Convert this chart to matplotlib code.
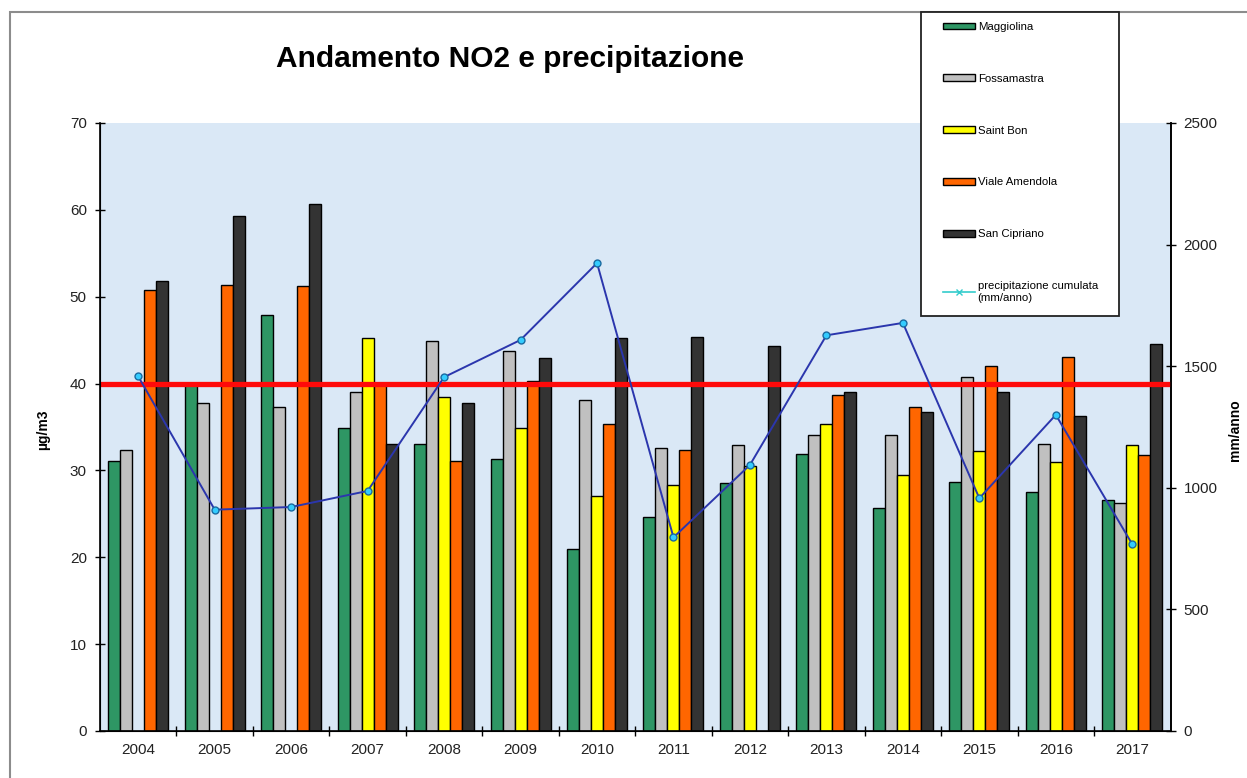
import numpy as np
import matplotlib
matplotlib.use("Agg")
import matplotlib.pyplot as plt
from matplotlib.patches import Patch, Rectangle
from matplotlib.lines import Line2D

plt.rcParams['font.family'] = ['Liberation Sans', 'DejaVu Sans']

years = ['2004', '2005', '2006', '2007', '2008', '2009', '2010',
         '2011', '2012', '2013', '2014', '2015', '2016', '2017']
nan = np.nan
maggiolina = [31.1, 40.0, 47.9, 34.9, 33.1, 31.3, 20.9, 24.6, 28.5, 31.9, 25.7, 28.7, 27.5, 26.6]
fossamastra = [32.4, 37.8, 37.3, 39.0, 44.9, 43.8, 38.1, 32.6, 32.9, 34.1, 34.1, 40.8, 33.1, 26.3]
saint_bon = [nan, nan, nan, 45.3, 38.4, 34.9, 27.1, 28.3, 30.5, 35.4, 29.5, 32.2, 31.0, 32.9]
viale_amendola = [50.8, 51.4, 51.2, 40.0, 31.1, 40.3, 35.4, 32.4, nan, 38.7, 37.3, 42.0, 43.1, 31.8]
san_cipriano = [51.8, 59.3, 60.7, 33.1, 37.8, 43.0, 45.3, 45.4, 44.3, 39.0, 36.7, 39.0, 36.3, 44.5]
precipitazione = [1458, 910, 921, 987, 1455, 1608, 1924, 796, 1094, 1627, 1678, 957, 1300, 768]
limite = 40

series_names = ['Maggiolina', 'Fossamastra', 'Saint Bon', 'Viale Amendola', 'San Cipriano']
series_vals = [maggiolina, fossamastra, saint_bon, viale_amendola, san_cipriano]
series_cols = ['#2e9664', '#c0c0c0', '#ffff00', '#ff6600', '#333333']

W, H = 1247, 778
fig = plt.figure(figsize=(W / 100, H / 100), dpi=100)
fig.patch.set_facecolor('white')

# figure border (top and left visible)
fig.add_artist(Rectangle((10 / W, -0.1), 1.2, 1 - 12 / H + 0.1, transform=fig.transFigure,
                         fill=False, edgecolor='#8c8c8c', lw=1.5, zorder=0))

left, right = 100 / W, 1170.5 / W
bottom, top = 1 - 731 / H, 1 - 123 / H
ax = fig.add_axes([left, bottom, right - left, top - bottom])
ax.set_facecolor('#dae8f6')

x = np.arange(len(years))
w = 0.157
for i, (name, vals, col) in enumerate(zip(series_names, series_vals, series_cols)):
    ax.bar(x + (i - 2) * w, np.array(vals, dtype=float), width=w, color=col,
           edgecolor='black', linewidth=1.0, label=name, zorder=2)

ax.axhline(limite, color='#ff0a0a', lw=3.8, zorder=3)

ax.set_xlim(-0.5, len(years) - 0.5)
ax.set_ylim(0, 70)
ax.set_yticks(np.arange(0, 71, 10))
ax.set_xticks(x)
ax.set_xticklabels(years)
ax.set_xticks(np.arange(0.5, len(years) - 1, 1.0), minor=True)
ax.tick_params(axis='x', which='major', length=0, pad=9, labelsize=11, labelcolor='#222222')
ax.tick_params(axis='x', which='minor', direction='inout', length=7, width=1)
ax.tick_params(axis='y', direction='inout', length=7, width=1, pad=6, labelsize=11, labelcolor='#222222')
ax.spines['top'].set_visible(False)
for s in ['left', 'bottom', 'right']:
    ax.spines[s].set_linewidth(1.2)

ax2 = ax.twinx()
ax2.set_ylim(0, 2500)
ax2.set_yticks(np.arange(0, 2501, 500))
ax2.tick_params(axis='y', direction='inout', length=7, width=1, pad=6, labelsize=11, labelcolor='#222222')
ax2.spines['top'].set_visible(False)
ax2.spines['right'].set_linewidth(1.2)
ax2.plot(x, precipitazione, color='#2b36ad', lw=1.4, marker='o', ms=5,
         mfc='#33ccff', mec='#1a6aa0', mew=1, zorder=5)

fig.text(510 / W, 1 - 59 / H, 'Andamento NO2 e precipitazione', ha='center', va='center',
         fontsize=21.5, fontweight='bold')
fig.text(43 / W, 1 - 430 / H, 'µg/m3', rotation=90, ha='center', va='center',
         fontsize=10, fontweight='bold')
fig.text(1235 / W, 1 - 430 / H, 'mm/anno', rotation=90, ha='center', va='center',
         fontsize=10, fontweight='bold')

# legend box
fig.add_artist(Rectangle((921 / W, 1 - 316 / H), 198 / W, 304 / H, transform=fig.transFigure,
                         facecolor='white', edgecolor='#222222', lw=1.3, zorder=10))
handles = [Patch(facecolor=c, edgecolor='black', linewidth=1.0) for c in series_cols]
handles.append(Line2D([0], [0], color='#33cccc', lw=1.2, marker='x', ms=4, mec='#33cccc'))
labels = series_names + ['precipitazione cumulata\n(mm/anno)']
leg = fig.legend(handles, labels, loc='upper left', bbox_to_anchor=(943 / W, 1 - 22 / H),
                 frameon=False, fontsize=8.2, handlelength=2.8, handleheight=0.55,
                 handletextpad=0.25, labelspacing=3.67, borderpad=0, borderaxespad=0)
leg.set_zorder(11)

fig.savefig('out.png', dpi=100)
